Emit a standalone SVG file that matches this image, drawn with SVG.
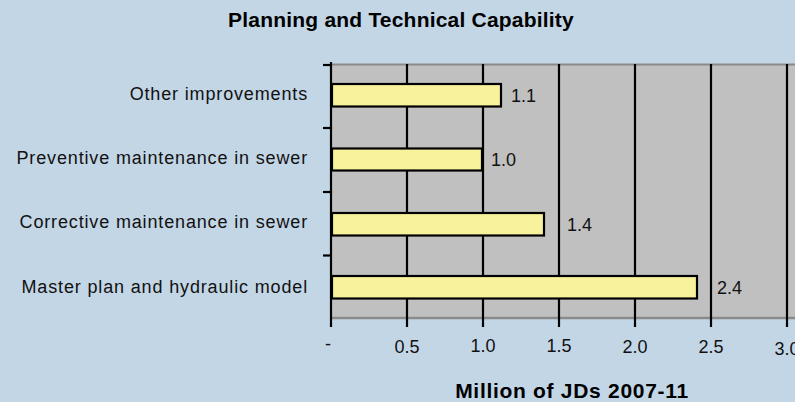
<svg xmlns="http://www.w3.org/2000/svg" width="795" height="402" viewBox="0 0 795 402">
<style>
.lbl{font-family:"Liberation Sans",Arial,sans-serif;font-size:18px;fill:#111;letter-spacing:0.85px}
.num{font-family:"Liberation Sans",Arial,sans-serif;font-size:18px;fill:#111}
.bar{fill:#f9f29c;stroke:#000;stroke-width:2.2}
.grid{stroke:#000;stroke-width:2.2}
.title{font-family:"Liberation Sans",Arial,sans-serif;font-weight:bold;font-size:21px;fill:#000}
</style>
<rect x="0" y="0" width="795" height="402" fill="#c3d6e6"/>
<g id="plot">
<rect x="331" y="64" width="470" height="254" fill="#c0c0c0"/>
<line x1="331" y1="64.5" x2="800" y2="64.5" stroke="#8a8a8a" stroke-width="2"/>
<line x1="331" y1="318" x2="800" y2="318" stroke="#8a8a8a" stroke-width="2.5"/>
</g>
<g id="gridlines">
<line class="grid" x1="331" y1="62" x2="331" y2="327"/>
<line class="grid" x1="407" y1="64" x2="407" y2="327"/>
<line class="grid" x1="483" y1="64" x2="483" y2="327"/>
<line class="grid" x1="559" y1="64" x2="559" y2="327"/>
<line class="grid" x1="635" y1="64" x2="635" y2="327"/>
<line class="grid" x1="711" y1="64" x2="711" y2="327"/>
<line class="grid" x1="787" y1="64" x2="787" y2="327"/>
<line class="grid" x1="323" y1="65" x2="331" y2="65"/>
<line class="grid" x1="323" y1="128" x2="331" y2="128"/>
<line class="grid" x1="323" y1="192" x2="331" y2="192"/>
<line class="grid" x1="323" y1="255.5" x2="331" y2="255.5"/>
</g>
<g id="bar-other">
<rect class="bar" x="332" y="84" width="169" height="22.5"/>
<text class="num" x="511" y="102">1.1</text>
<text class="lbl" x="308" y="99.5" text-anchor="end">Other improvements</text>
</g>
<g id="bar-preventive">
<rect class="bar" x="332" y="148.5" width="150" height="22"/>
<text class="num" x="491" y="166">1.0</text>
<text class="lbl" x="308" y="163.5" text-anchor="end">Preventive maintenance in sewer</text>
</g>
<g id="bar-corrective">
<rect class="bar" x="332" y="213" width="212" height="22.5"/>
<text class="num" x="567" y="231">1.4</text>
<text class="lbl" x="308" y="227.5" text-anchor="end">Corrective maintenance in sewer</text>
</g>
<g id="bar-master">
<rect class="bar" x="332" y="276" width="365" height="22.5"/>
<text class="num" x="717" y="294">2.4</text>
<text class="lbl" x="308" y="293" text-anchor="end">Master plan and hydraulic model</text>
</g>
<g id="xaxis-labels">
<text class="num" x="328" y="350" text-anchor="middle">-</text>
<text class="num" x="407" y="353" text-anchor="middle">0.5</text>
<text class="num" x="483" y="352" text-anchor="middle">1.0</text>
<text class="num" x="559" y="352" text-anchor="middle">1.5</text>
<text class="num" x="635" y="353" text-anchor="middle">2.0</text>
<text class="num" x="711" y="353" text-anchor="middle">2.5</text>
<text class="num" x="787" y="355" text-anchor="middle">3.0</text>
</g>
<text class="title" x="401" y="27" text-anchor="middle" style="letter-spacing:0.2px">Planning and Technical Capability</text>
<text class="title" x="572" y="398" text-anchor="middle" style="letter-spacing:0.7px">Million of JDs 2007-11</text>
<g id="connectors"/>
</svg>
